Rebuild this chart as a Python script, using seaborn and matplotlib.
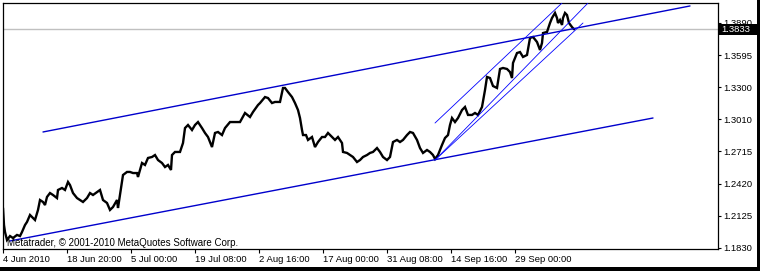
import matplotlib
matplotlib.use("Agg")
import matplotlib.pyplot as plt
import seaborn as sns
import pandas as pd
from matplotlib.patches import Rectangle
from matplotlib.transforms import blended_transform_factory

# ---------------- data (EURUSD-like H4 closes) ----------------
bar = [0, 1, 2, 4, 7, 10, 14, 17, 19, 22, 24, 27, 30, 32, 35, 37, 40, 42, 44, 47,
       50, 54, 55, 59, 62, 65, 67, 70, 74, 77, 80, 84, 87, 90, 94, 97, 100, 104, 107, 110,
       114, 115, 119, 120, 124, 127, 130, 134, 135, 139, 142, 145, 149, 152, 155, 159, 162, 165, 168, 169,
       172, 177, 180, 182, 185, 189, 192, 195, 199, 202, 205, 209, 212, 215, 219, 222, 227, 232, 237, 242,
       247, 250, 255, 257, 262, 265, 269, 272, 277, 280, 282, 285, 289, 292, 295, 297, 299, 300, 303, 305,
       309, 312, 315, 319, 322, 325, 329, 332, 335, 339, 340, 344, 347, 350, 354, 357, 360, 364, 367, 370,
       374, 377, 380, 384, 387, 390, 394, 397, 400, 404, 407, 410, 414, 417, 420, 424, 427, 430, 432, 435,
       439, 442, 445, 447, 449, 452, 455, 459, 462, 465, 469, 472, 475, 479, 482, 484, 487, 490, 494, 497,
       500, 504, 507, 509, 510, 514, 517, 520, 524, 527, 530, 534, 537, 539, 540, 544, 547, 549, 552, 554,
       555, 557, 559, 560, 562, 564, 566, 569, 571]
close = [1.2196, 1.2040, 1.1976, 1.1903, 1.1939, 1.1921, 1.1949, 1.1939, 1.1976, 1.2040,
         1.2068, 1.2132, 1.2104, 1.2086, 1.2178, 1.2269, 1.2251, 1.2223, 1.2297, 1.2333,
         1.2315, 1.2287, 1.2361, 1.2379, 1.2361, 1.2434, 1.2406, 1.2333, 1.2287, 1.2269,
         1.2251, 1.2287, 1.2333, 1.2315, 1.2342, 1.2361, 1.2269, 1.2242, 1.2178, 1.2205,
         1.2269, 1.2196, 1.2434, 1.2498, 1.2526, 1.2526, 1.2516, 1.2516, 1.2480, 1.2608,
         1.2590, 1.2654, 1.2663, 1.2681, 1.2635, 1.2608, 1.2571, 1.2590, 1.2544, 1.2681,
         1.2709, 1.2709, 1.2791, 1.2928, 1.2956, 1.2910, 1.2956, 1.2983, 1.2928, 1.2883,
         1.2846, 1.2754, 1.2883, 1.2892, 1.2864, 1.2928, 1.2983, 1.2983, 1.2983, 1.3066,
         1.3029, 1.3075, 1.3139, 1.3157, 1.3212, 1.3203, 1.3157, 1.3167, 1.3167, 1.3295,
         1.3295, 1.3258, 1.3212, 1.3157, 1.3093, 1.3020, 1.2910, 1.2864, 1.2864, 1.2819,
         1.2846, 1.2754, 1.2800, 1.2846, 1.2846, 1.2883, 1.2846, 1.2819, 1.2846, 1.2791,
         1.2709, 1.2700, 1.2681, 1.2663, 1.2617, 1.2635, 1.2663, 1.2681, 1.2700, 1.2709,
         1.2745, 1.2709, 1.2663, 1.2635, 1.2663, 1.2800, 1.2819, 1.2800, 1.2819, 1.2864,
         1.2892, 1.2883, 1.2819, 1.2745, 1.2700, 1.2727, 1.2709, 1.2681, 1.2645, 1.2681,
         1.2773, 1.2837, 1.2864, 1.2956, 1.3020, 1.2983, 1.3020, 1.3093, 1.3121, 1.3048,
         1.3048, 1.3066, 1.3048, 1.3121, 1.3276, 1.3396, 1.3386, 1.3313, 1.3295, 1.3469,
         1.3478, 1.3469, 1.3441, 1.3386, 1.3524, 1.3615, 1.3624, 1.3579, 1.3597, 1.3753,
         1.3762, 1.3716, 1.3643, 1.3707, 1.3798, 1.3808, 1.3890, 1.3936, 1.3982, 1.3936,
         1.3890, 1.3917, 1.3872, 1.3936, 1.3982, 1.3963, 1.3890, 1.3853, 1.3833]

# trend lines: (bar0, price0, bar1, price1)
channel_lines = [(40, 1.2892, 687, 1.4046),
                 (7, 1.1894, 650, 1.3020)]
steep_lines = [(432, 1.2974, 559, 1.4073),
               (432, 1.2635, 585, 1.4073),
               (432, 1.2635, 580, 1.3890)]

current_price = 1.3833
ytick_values = [1.1830, 1.2125, 1.2420, 1.2715, 1.3010, 1.3300, 1.3595, 1.3890]
xtick_bars = [0, 64, 128, 192, 256, 320, 384, 448, 512]
xtick_labels = ["4 Jun 2010", "18 Jun 20:00", "5 Jul 00:00", "19 Jul 08:00",
                "2 Aug 16:00", "17 Aug 00:00", "31 Aug 08:00", "14 Sep 16:00",
                "29 Sep 00:00"]
copyright_text = "Metatrader, © 2001-2010 MetaQuotes Software Corp."

# ---------------- figure ----------------
sns.set_style("white")
plt.rcParams["font.family"] = ["Liberation Sans", "DejaVu Sans"]

W, H = 760, 271
fig = plt.figure(figsize=(W / 100, H / 100), dpi=100)
fig.patch.set_facecolor("white")
ax = fig.add_axes([2.5 / W, (H - 249) / H, (718 - 2.5) / W, (249 - 2.5) / H])

df = pd.DataFrame({"bar": bar, "close": close})
sns.lineplot(data=df, x="bar", y="close", color="black", linewidth=1.7, ax=ax,
             zorder=3)
for ln in ax.lines:
    ln.set_solid_joinstyle("miter")

for b0, p0, b1, p1 in channel_lines:
    ax.plot([b0, b1], [p0, p1], color="#0000CC", linewidth=1.0, zorder=4)
for b0, p0, b1, p1 in steep_lines:
    ax.plot([b0, b1], [p0, p1], color="#0000FF", linewidth=0.6, zorder=4)

ax.axhline(current_price, color="#C0C0C0", linewidth=1.0, zorder=2)

ax.set_xlim(-0.5, 715)
ax.set_ylim(1.18204, 1.40777)

ax.set_xlabel("")
ax.set_ylabel("")
ax.set_xticks(xtick_bars)
ax.set_xticklabels(xtick_labels, ha="left")
ax.set_yticks(ytick_values)
ax.set_yticklabels([f"{v:.4f}" for v in ytick_values])
ax.yaxis.tick_right()
ax.tick_params(axis="x", direction="out", length=3.2, width=0.8, pad=1,
               labelsize=6.8, colors="black", bottom=True)
ax.tick_params(axis="y", direction="out", length=2.4, width=0.8, pad=1.5,
               labelsize=6.8, colors="black", right=True, left=False)
for s in ax.spines.values():
    s.set_visible(True)
    s.set_color("black")
    s.set_linewidth(0.9)

ax.text(4, 1.1832, copyright_text, fontsize=7.0, color="black",
        ha="left", va="bottom", zorder=5)

# current price marker box on the price scale
trans = blended_transform_factory(ax.transAxes, ax.transData)
axw = 718 - 2.5
box_h = 11 / 1092
ax.add_patch(Rectangle((1.0 + 1.0 / axw, current_price - box_h / 2), 38 / axw, box_h,
                       transform=trans, facecolor="black", edgecolor="none",
                       clip_on=False, zorder=6))
ax.text(1.0 + 3.0 / axw, current_price, f"{current_price:.4f}", transform=trans,
        fontsize=6.8, color="white", ha="left", va="center", zorder=7,
        clip_on=False)

fig.patches.append(Rectangle((757 / W, 0), 3 / W, 1, transform=fig.transFigure,
                             facecolor="black", edgecolor="none"))
fig.patches.append(Rectangle((0, 0), 1, 4.5 / H, transform=fig.transFigure,
                             facecolor="black", edgecolor="none"))

fig.savefig("out.png", dpi=100, facecolor="white")
